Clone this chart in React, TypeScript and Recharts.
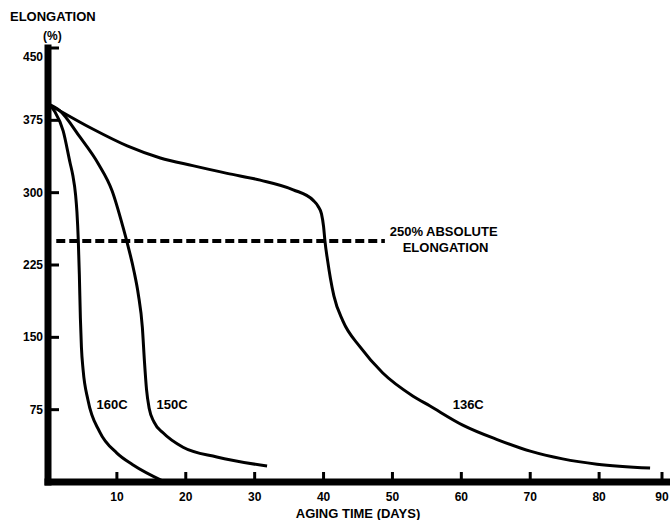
import { LineChart, Line, XAxis, YAxis, ReferenceLine, ReferenceDot } from 'recharts'

const FONT = '"Liberation Sans", Arial, Helvetica, sans-serif'

// tick values
const DAY_TICKS = [10, 20, 30, 40, 50, 60, 70, 80, 90]
const ELONG_TICKS = [75, 150, 225, 300, 375, 450]

// curves: aging days vs elongation %
const CURVE_160C = [
  { day: 0, elong: 392 },
  { day: 1, elong: 384 },
  { day: 2.2, elong: 364 },
  { day: 3.2, elong: 331 },
  { day: 3.6, elong: 318 },
  { day: 4.0, elong: 298 },
  { day: 4.2, elong: 280 },
  { day: 4.4, elong: 250 },
  { day: 4.55, elong: 215 },
  { day: 4.7, elong: 170 },
  { day: 4.85, elong: 140 },
  { day: 5.1, elong: 116 },
  { day: 5.8, elong: 85 },
  { day: 7.5, elong: 52 },
  { day: 10, elong: 30 },
  { day: 12.3, elong: 18 },
  { day: 16.7, elong: 1 },
]

const CURVE_150C = [
  { day: 0, elong: 392 },
  { day: 1.7, elong: 385 },
  { day: 4.6, elong: 358 },
  { day: 7.3, elong: 330 },
  { day: 9.3, elong: 302 },
  { day: 10.9, elong: 264 },
  { day: 11.5, elong: 248 },
  { day: 12.5, elong: 218 },
  { day: 13.1, elong: 195 },
  { day: 13.7, elong: 160 },
  { day: 14.0, elong: 125 },
  { day: 14.3, elong: 96 },
  { day: 14.7, elong: 76 },
  { day: 15.4, elong: 62 },
  { day: 16.7, elong: 51 },
  { day: 19.6, elong: 36 },
  { day: 24.5, elong: 26 },
  { day: 31.8, elong: 16.5 },
]

const CURVE_136C = [
  { day: 0, elong: 392 },
  { day: 1.7, elong: 385 },
  { day: 6.5, elong: 366 },
  { day: 11.5, elong: 348.5 },
  { day: 16.3, elong: 336 },
  { day: 21, elong: 328 },
  { day: 26, elong: 320 },
  { day: 30.8, elong: 313 },
  { day: 35.6, elong: 303 },
  { day: 38.5, elong: 292 },
  { day: 39.2, elong: 286 },
  { day: 39.7, elong: 278 },
  { day: 40.0, elong: 265 },
  { day: 40.2, elong: 250 },
  { day: 40.6, elong: 229 },
  { day: 41.0, elong: 211 },
  { day: 41.5, elong: 193 },
  { day: 42.8, elong: 167 },
  { day: 45.3, elong: 140 },
  { day: 48.6, elong: 113 },
  { day: 53, elong: 89 },
  { day: 55.4, elong: 79 },
  { day: 60.2, elong: 59 },
  { day: 65.2, elong: 44 },
  { day: 70, elong: 32 },
  { day: 74.7, elong: 24 },
  { day: 79.7, elong: 18.5 },
  { day: 87.4, elong: 14.5 },
]

const LIMIT = 250
const LIMIT_RANGE = [1.2, 48.9]

const CURVE_LABELS = [
  { day: 9.3, elong: 80, text: '160C' },
  { day: 18, elong: 80, text: '150C' },
  { day: 61, elong: 80, text: '136C' },
]

const numStyle = { fontFamily: FONT, fontSize: 12, fontWeight: 700, fill: '#000' }
const wordStyle = { fontFamily: FONT, fontSize: 13, fontWeight: 700, fill: '#000' }

function YTick({ x, y, payload }: any) {
  // the top label sits a little below its tick, as in the original
  const top = payload.value === ELONG_TICKS[ELONG_TICKS.length - 1]
  return (
    <g>
      <line x1={x} x2={x + 11} y1={y} y2={y} stroke="#000" strokeWidth={3} />
      <text x={x - 5} y={y} dy={top ? 13 : 4} textAnchor="end" style={numStyle}>{payload.value}</text>
    </g>
  )
}

function XTick({ x, y, payload }: any) {
  return (
    <g>
      <line x1={x} x2={x} y1={y} y2={y - 10} stroke="#000" strokeWidth={3} />
      <text x={x} y={y + 19} textAnchor="middle" style={numStyle}>{payload.value}</text>
    </g>
  )
}

export default function App() {
  return (
    <div style={{ position: 'absolute', left: 0, top: 0, width: 670, height: 520, background: '#fff' }}>
      <div style={{ position: 'absolute', left: 10, top: 9, fontFamily: FONT, fontSize: 13, fontWeight: 700, lineHeight: '15px' }}>
        ELONGATION
      </div>
      <div style={{ position: 'absolute', left: 43, top: 29, fontFamily: FONT, fontSize: 12, fontWeight: 700, lineHeight: '14px' }}>
        (%)
      </div>
      <LineChart width={670} height={520} margin={{ top: 48, right: 2, left: 0, bottom: 0 }}>
        <XAxis
          type="number"
          dataKey="day"
          domain={[0, 90]}
          ticks={DAY_TICKS}
          tick={<XTick />}
          tickSize={0}
          tickMargin={0}
          tickLine={false}
          height={38}
          axisLine={{ stroke: '#000', strokeWidth: 7, strokeLinecap: 'square' }}
          label={{ value: 'AGING TIME (DAYS)', position: 'insideBottom', offset: 2, style: wordStyle }}
        />
        <YAxis
          type="number"
          domain={[0, 450]}
          ticks={ELONG_TICKS}
          tick={<YTick />}
          tickSize={0}
          tickMargin={0}
          tickLine={false}
          width={48}
          axisLine={{ stroke: '#000', strokeWidth: 7, strokeLinecap: 'square' }}
        />
        <ReferenceLine
          segment={[{ x: LIMIT_RANGE[0], y: LIMIT }, { x: LIMIT_RANGE[1], y: LIMIT }]}
          stroke="#000"
          strokeWidth={4}
          strokeDasharray="9 4"
        />
        <Line data={CURVE_160C} dataKey="elong" type="monotone" stroke="#000" strokeWidth={3} dot={false} isAnimationActive={false} />
        <Line data={CURVE_150C} dataKey="elong" type="monotone" stroke="#000" strokeWidth={3} dot={false} isAnimationActive={false} />
        <Line data={CURVE_136C} dataKey="elong" type="monotone" stroke="#000" strokeWidth={3} dot={false} isAnimationActive={false} />
        {CURVE_LABELS.map(l => (
          <ReferenceDot
            key={l.text}
            x={l.day}
            y={l.elong}
            r={0}
            shape={(p: any) => (
              <text x={p.cx} y={p.cy} dy={4} textAnchor="middle" style={wordStyle}>{l.text}</text>
            )}
          />
        ))}
        <ReferenceDot
          x={LIMIT_RANGE[1] + 0.7}
          y={LIMIT}
          r={0}
          shape={(p: any) => (
            <text x={p.cx} y={p.cy} style={wordStyle}>
              <tspan x={p.cx} dy={-5}>250% ABSOLUTE</tspan>
              <tspan x={p.cx + 13} dy={16}>ELONGATION</tspan>
            </text>
          )}
        />
      </LineChart>
    </div>
  )
}
